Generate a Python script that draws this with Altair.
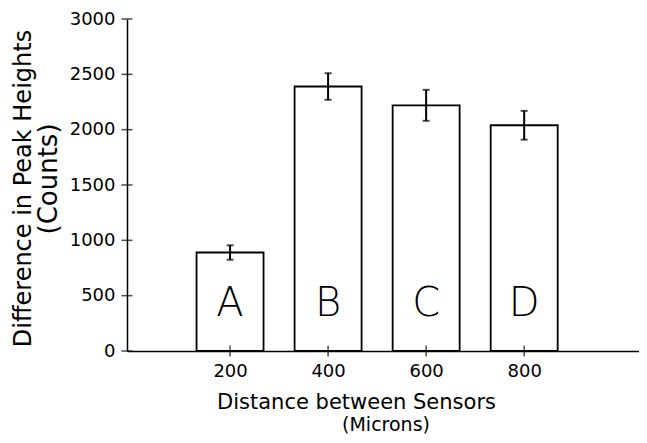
import altair as alt
import pandas as pd

# ---- data ----
distance = [200, 400, 600, 800]
counts = [890, 2390, 2220, 2040]
errors = [65, 120, 140, 130]
letters = ["A", "B", "C", "D"]
letter_level = 316
y_ticks = [0, 500, 1000, 1500, 2000, 2500, 3000]
x_ticks = [200, 400, 600, 800]

df = pd.DataFrame({
    "distance": distance,
    "counts": counts,
    "err": errors,
    "letter": letters,
})
df["lo"] = df["counts"] - df["err"]
df["hi"] = df["counts"] + df["err"]
df["ly"] = letter_level

W, H = 512, 332
FONT = "DejaVu Sans"

x_scale = alt.Scale(domain=[0, 1024], nice=False, zero=False)
y_scale = alt.Scale(domain=[0, 3000], nice=False)

x_axis = alt.Axis(
    values=x_ticks, format="d", title="Distance between Sensors", grid=False, ticks=False,
    domainColor="black", domainWidth=1.5, labelPadding=11, labelFontSize=18,
    labelFont=FONT, labelColor="black", titleFont=FONT, titleFontSize=21,
    titleFontWeight="normal", titleColor="black", titleX=229, titleY=57,
    titleAlign="center", titleBaseline="alphabetic", labelFlush=False,
)
y_axis = alt.Axis(
    values=y_ticks, format="d", title="Difference in Peak Heights", grid=False, ticks=False,
    domainColor="black", domainWidth=1.5, labelPadding=12, labelFontSize=18,
    labelFont=FONT, labelColor="black", titleFont=FONT, titleFontSize=24,
    titleFontWeight="normal", titleColor="black", titleX=-104, titleY=169,
    titleAngle=270, titleAlign="center", titleBaseline="middle", labelFlush=False,
)


def X(field):
    return alt.X(field, scale=x_scale, axis=x_axis)


def Y(field):
    return alt.Y(field, scale=y_scale, axis=y_axis)


base = alt.Chart(df)

bars = base.mark_bar(size=67, fill="white", stroke="black", strokeWidth=1.8).encode(
    x=X("distance:Q"),
    y=Y("counts:Q"),
)

err_rule = base.mark_rule(color="black", strokeWidth=2).encode(
    x=X("distance:Q"),
    y=Y("lo:Q"),
    y2="hi:Q",
)
cap_hi = base.mark_tick(orient="horizontal", size=7, thickness=2, color="black").encode(
    x=X("distance:Q"),
    y=Y("hi:Q"),
)
cap_lo = base.mark_tick(orient="horizontal", size=7, thickness=2, color="black").encode(
    x=X("distance:Q"),
    y=Y("lo:Q"),
)

letter_text = base.mark_text(font=FONT, fontSize=40, fontWeight=200, color="black",
                             baseline="alphabetic", align="center").encode(
    x=X("distance:Q"),
    y=Y("ly:Q"),
    text="letter:N",
)

ytick_layer = alt.Chart(pd.DataFrame({"v": y_ticks})).mark_tick(
    orient="horizontal", size=11, thickness=1.5, color="black").encode(
    y=Y("v:Q"),
    x=alt.value(0),
)
xtick_layer = alt.Chart(pd.DataFrame({"v": x_ticks})).mark_tick(
    orient="vertical", size=11, thickness=1.5, color="black").encode(
    x=X("v:Q"),
    y=alt.value(H),
)

x_sub = alt.Chart(pd.DataFrame({"t": ["(Microns)"]})).mark_text(
    font=FONT, fontSize=19, color="black", align="center", baseline="alphabetic").encode(
    text="t:N", x=alt.value(259), y=alt.value(412),
)
y_sub = alt.Chart(pd.DataFrame({"t": ["(Counts)"]})).mark_text(
    font=FONT, fontSize=26, color="black", align="center", baseline="middle", angle=270).encode(
    text="t:N", x=alt.value(-78), y=alt.value(160),
)

chart = alt.layer(
    bars, err_rule, cap_hi, cap_lo, letter_text, ytick_layer, xtick_layer, x_sub, y_sub
).properties(
    width=W, height=H,
    autosize=alt.AutoSizeParams(type="none"),
    padding={"left": 119, "top": 11, "right": 0, "bottom": 84},
    background="white",
).configure_view(stroke=None)

chart.save("out.html", embed_options={"renderer": "svg", "actions": False})
